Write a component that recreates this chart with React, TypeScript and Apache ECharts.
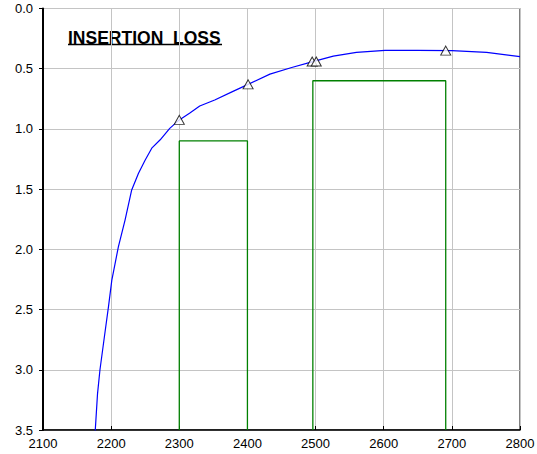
import React, { useEffect, useRef } from "react";
import * as echarts from "echarts";

const xTicks = [2100, 2800, 100];
const yTicks = [0, 3.5, 0.5];
const titleText = "INSERTION\u00a0\u00a0LOSS";

const lossCurve: [number, number][] = [
  [2176.5, 3.52], [2180, 3.2], [2183.6, 3.0], [2190, 2.73], [2196, 2.48],
  [2201, 2.255], [2205.7, 2.12], [2210.6, 1.98], [2220.4, 1.757], [2230, 1.51],
  [2240, 1.37], [2249.8, 1.26], [2259.6, 1.16], [2272, 1.09], [2286, 0.995],
  [2300, 0.925], [2315, 0.87], [2330, 0.81], [2352, 0.76], [2378, 0.69],
  [2401, 0.63], [2433, 0.545], [2465, 0.49], [2492, 0.447], [2526, 0.395],
  [2560, 0.364], [2602, 0.347], [2650, 0.347], [2700, 0.35], [2751, 0.364],
  [2800, 0.4],
];

const markers: [number, number][] = [
  [2300, 0.925], [2401, 0.63], [2495, 0.44], [2501, 0.44], [2691, 0.35],
];

const mask1: [number, number][] = [[2300, 3.5], [2300, 1.1], [2400, 1.1], [2400, 3.5]];
const mask2: [number, number][] = [[2496, 3.5], [2496, 0.6], [2691, 0.6], [2691, 3.5]];

export default function App() {
  const ref = useRef<HTMLDivElement>(null);
  useEffect(() => {
    const chart = echarts.init(ref.current!, null, { renderer: "svg" });
    const font = "Liberation Sans, Arial, sans-serif";
    chart.setOption({
      animation: false,
      backgroundColor: "#fff",
      grid: {
        left: 43, right: 17, top: 8.5, bottom: 24,
        containLabel: false, outerBoundsMode: "none",
        show: true, borderColor: "#000", borderWidth: 1, backgroundColor: "#fff",
      },
      xAxis: {
        type: "value", min: xTicks[0], max: xTicks[1], interval: xTicks[2],
        axisLine: { onZero: false, lineStyle: { color: "#000", width: 1.5 } },
        axisTick: { inside: true, length: 4, lineStyle: { color: "#000" } },
        axisLabel: {
          color: "#000", fontSize: 13, fontFamily: font, margin: 7,
          formatter: (v: number) => String(v),
        },
        splitLine: { show: true, lineStyle: { color: "#c4c4c4", width: 1 } },
      },
      yAxis: {
        type: "value", inverse: true, min: yTicks[0], max: yTicks[1], interval: yTicks[2],
        axisLine: { onZero: false, lineStyle: { color: "#000", width: 2 } },
        axisTick: { inside: false, length: 4, lineStyle: { color: "#000" } },
        axisLabel: {
          color: "#000", fontSize: 13, fontFamily: font, margin: 10,
          formatter: (v: number) => v.toFixed(1),
        },
        splitLine: { show: true, lineStyle: { color: "#c4c4c4", width: 1 } },
      },
      graphic: [
        {
          type: "text", left: 68, top: 29,
          style: { text: titleText, fontSize: 17.5, fontWeight: "bold", fontFamily: font, fill: "#000" },
        },
        {
          type: "rect", shape: { x: 68, y: 43.8, width: 154, height: 1.5 },
          style: { fill: "#000" },
        },
      ],
      series: [
        {
          type: "line", data: mask1, symbol: "none",
          lineStyle: { color: "#008000", width: 1.3 }, z: 2,
        },
        {
          type: "line", data: mask2, symbol: "none",
          lineStyle: { color: "#008000", width: 1.3 }, z: 2,
        },
        {
          type: "line", data: lossCurve, symbol: "none", smooth: false,
          lineStyle: { color: "#0000ff", width: 1.2 }, z: 3,
        },
        {
          type: "scatter", data: markers, symbol: "triangle", symbolSize: [10, 9],
          itemStyle: { color: "#fff", borderColor: "#000", borderWidth: 1 }, z: 4,
        },
      ],
    });
    return () => chart.dispose();
  }, []);
  return (
    <div
      ref={ref}
      style={{ position: "fixed", left: 0, top: 0, width: 537, height: 454 }}
    />
  );
}
